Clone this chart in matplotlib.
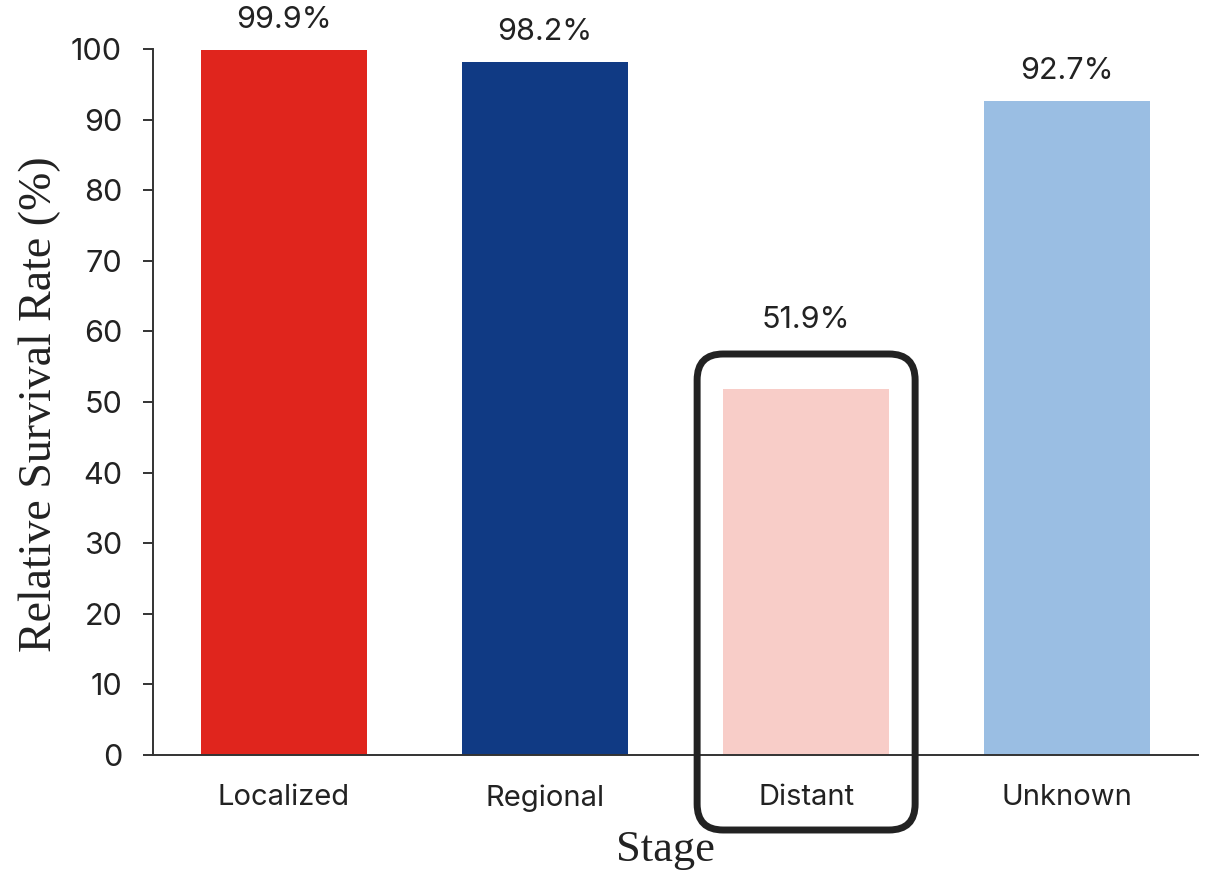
import matplotlib
matplotlib.use("Agg")
import matplotlib.pyplot as plt
from matplotlib.patches import FancyBboxPatch

categories = ["Localized", "Regional", "Distant", "Unknown"]
values = [99.9, 98.2, 51.9, 92.7]
value_labels = ["99.9%", "98.2%", "51.9%", "92.7%"]
colors = ["#E0251D", "#103A84", "#F8CDC8", "#9ABEE3"]
yticks = [0, 10, 20, 30, 40, 50, 60, 70, 80, 90, 100]
highlight = "Distant"

W, H = 1207, 872
fig = plt.figure(figsize=(W / 100, H / 100), dpi=100)
ax = fig.add_axes([153 / W, 1 - 755 / H, (1198 - 153) / W, (755 - 49) / H])

sans = "Inter"
serif = "Liberation Serif"
tc = "#222222"

x = list(range(len(categories)))
ax.bar(x, values, width=0.636, color=colors, zorder=2)
ax.set_xlim(-0.5, 3.5)
ax.set_ylim(0, 100)
ax.set_yticks(yticks)
ax.set_xticks(x)
ax.set_xticklabels(categories)

for s in ["top", "right"]:
    ax.spines[s].set_visible(False)
for s in ["left", "bottom"]:
    ax.spines[s].set_color("#333333")
    ax.spines[s].set_linewidth(1.4)

ax.tick_params(axis="y", direction="out", length=7.2, width=1.4, color="#333333",
               pad=15, labelsize=22, labelcolor=tc)
ax.tick_params(axis="x", length=0, pad=21, labelsize=21, labelcolor=tc)
for lab in ax.get_yticklabels() + ax.get_xticklabels():
    lab.set_fontfamily(sans)

# axis-scale ratio for the rounded highlight box
xpx = (1198 - 153) / 4.0
ypx = (755 - 49) / 100.0
aspect = xpx / ypx

hi = categories.index(highlight)
box_half = 109 / xpx
box_top = (755 - 354) / ypx
box_bot = -(830 - 755) / ypx
rs = 26 / xpx
box = FancyBboxPatch((hi - box_half, box_bot), 2 * box_half, box_top - box_bot,
                     boxstyle=f"round,pad=0,rounding_size={rs}",
                     mutation_aspect=aspect, fill=False, edgecolor=tc,
                     linewidth=5, clip_on=False, zorder=5)
ax.add_patch(box)

for i, (v, lab) in enumerate(zip(values, value_labels)):
    base = box_top if i == hi else v
    off = 20 if i == hi else 16
    ax.annotate(lab, (i, base), xytext=(0, off * 0.72), textcoords="offset points",
                ha="center", va="bottom", fontsize=22, color=tc, family=sans)

fig.text(40 / W, 1 - 404 / H, "Relative Survival Rate (%)", rotation=90,
         ha="center", va="center", fontsize=33, color=tc, family=serif)
fig.text(665 / W, 1 - 850 / H, "Stage", ha="center", va="center",
         fontsize=32, color=tc, family=serif)

fig.savefig("out.png", dpi=100)
